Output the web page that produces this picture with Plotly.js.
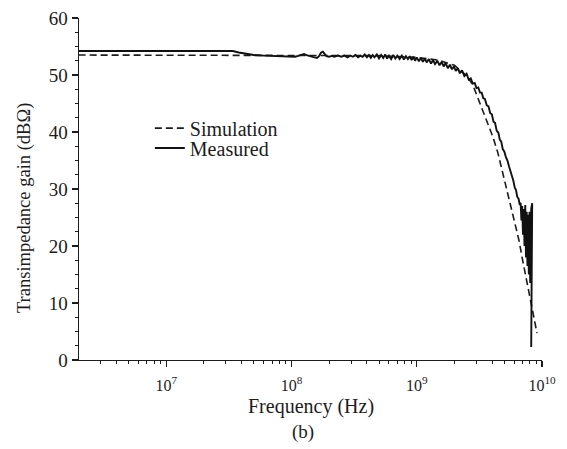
<!DOCTYPE html>
<html>
<head>
<meta charset="utf-8">
<script src="https://cdn.plot.ly/plotly-3.0.1.min.js"></script>
<style>html,body{margin:0;padding:0;background:#fff;}#chart{width:567px;height:449px;}</style>
</head>
<body>
<div id="chart"></div>
<script>
// Simulation (dashed)
const simFreq = [2e6, 1e7, 1e8, 5e8, 1e9, 1.5e9, 2e9, 2.5e9, 2.8e9, 3.13e9, 3.56e9, 4.06e9, 4.45e9, 5.45e9, 6.55e9, 6.92e9, 8.63e9, 9.12e9];
const simGain = [53.5, 53.5, 53.5, 53.4, 53.1, 52.6, 51.7, 49.9, 48.3, 45.6, 42.6, 39.1, 36.3, 28.1, 21.0, 18.1, 7.0, 4.7];

// Measured (solid)
const measFreq = [
  2e6, 1e7, 2e7, 3e7, 3.4e7, 3.8e7, 4.3e7, 5e7, 6e7, 7e7, 8e7, 9e7, 1e8, 1.07e8, 1.13e8, 1.2e8, 1.26e8, 1.32e8, 1.4e8, 1.5e8,
  1.6e8, 1.66e8, 1.72e8, 1.78e8, 1.84e8, 1.9e8, 2.0e8, 2.1e8,
  2.2e8, 2.35e8, 2.5e8, 2.65e8, 2.8e8, 2.95e8, 3.1e8, 3.25e8, 3.4e8, 3.55e8, 3.7e8, 3.85e8, 4.0e8, 4.15e8, 4.3e8, 4.45e8,
  4.6e8, 4.8e8, 5.0e8, 5.2e8, 5.4e8, 5.6e8, 5.8e8, 6.0e8, 6.25e8, 6.5e8, 6.75e8, 7.0e8, 7.3e8, 7.6e8, 7.9e8, 8.2e8, 8.5e8,
  8.8e8, 9.1e8, 9.4e8, 9.7e8, 1.0e9, 1.04e9, 1.08e9, 1.12e9, 1.16e9, 1.2e9, 1.25e9, 1.3e9, 1.35e9, 1.4e9, 1.46e9, 1.52e9,
  1.58e9, 1.64e9, 1.7e9, 1.77e9, 1.84e9, 1.91e9, 1.98e9, 2.05e9, 2.13e9, 2.21e9, 2.3e9, 2.4e9, 2.5e9, 2.6e9, 2.7e9, 2.8e9,
  2.9e9, 3.0e9, 3.1e9, 3.2e9, 3.3e9, 3.4e9, 3.5e9, 3.62e9, 3.74e9, 3.86e9, 3.98e9, 4.1e9, 4.22e9, 4.35e9, 4.48e9, 4.6e9,
  4.73e9, 4.86e9, 5.0e9, 5.15e9, 5.3e9, 5.45e9, 5.6e9, 5.75e9, 5.9e9, 6.05e9, 6.2e9, 6.35e9, 6.5e9, 6.65e9, 6.75e9, 6.85e9,
  6.95e9, 7.05e9, 7.15e9, 7.25e9, 7.35e9, 7.45e9, 7.55e9, 7.65e9, 7.75e9, 7.85e9, 7.95e9, 8.05e9, 8.2e9, 8.35e9, 8.3e9,
  8.22e9, 8.2e9
];
const measGain = [
  54.2, 54.2, 54.25, 54.25, 54.2, 53.95, 53.7, 53.5, 53.4, 53.35, 53.3, 53.3, 53.25, 53.2, 53.35, 53.55, 53.7, 53.5, 53.3, 53.15,
  53.0, 53.3, 53.9, 54.1, 53.7, 53.3, 53.2, 53.35,
  53.2, 53.4, 53.2, 53.4, 53.1, 53.4, 53.2, 53.5, 53.1, 53.4, 53.2, 53.6, 53.1, 53.5, 53.0, 53.5,
  53.1, 53.6, 52.9, 53.5, 53.0, 53.6, 52.9, 53.4, 52.8, 53.5, 52.9, 53.4, 52.8, 53.4, 52.7, 53.3, 52.8,
  53.3, 52.6, 53.2, 52.5, 53.1, 52.4, 53.0, 52.3, 52.9, 52.2, 52.8, 52.0, 52.6, 51.9, 52.5, 51.7,
  52.3, 51.5, 52.1, 51.2, 51.8, 51.0, 51.5, 50.7, 51.2, 50.3, 50.8, 49.8, 50.2, 49.2, 49.4, 48.5,
  48.6, 47.7, 47.8, 46.9, 46.9, 45.9, 45.8, 44.7, 44.5, 43.3, 43.1, 41.8, 41.6, 40.2, 39.9, 38.7,
  38.3, 37.0, 36.6, 35.6, 35.0, 34.0, 33.2, 32.2, 31.5, 30.3, 29.8, 28.6, 28.3, 27.2, 27.6, 24.5,
  27.0, 22.0, 26.5, 20.0, 27.2, 18.0, 26.0, 16.5, 25.5, 15.0, 26.0, 13.5, 26.5, 27.5, 14.0,
  8.0, 2.3
];

const xTickVals = [1e7, 1e8, 1e9, 1e10];
const xTickText = ['10<sup>7</sup>', '10<sup>8</sup>', '10<sup>9</sup>', '10<sup>10</sup>'];
const xMinorVals = [2e6,3e6,4e6,5e6,6e6,7e6,8e6,9e6,2e7,3e7,4e7,5e7,6e7,7e7,8e7,9e7,2e8,3e8,4e8,5e8,6e8,7e8,8e8,9e8,2e9,3e9,4e9,5e9,6e9,7e9,8e9,9e9];
const yTickVals = [0, 10, 20, 30, 40, 50, 60];

const FONT = 'Liberation Serif, Times New Roman, serif';
const INK = '#1c1c1c';

const traces = [
  {x: simFreq, y: simGain, mode: 'lines', name: 'Simulation', legend: 'legend', line: {color: INK, width: 1.6, dash: '7px,4px'}},
  {x: measFreq, y: measGain, mode: 'lines', name: 'Measured', legend: 'legend2', line: {color: '#111', width: 1.9}}
];

const legendBase = {xanchor: 'left', yanchor: 'middle', bgcolor: 'rgba(0,0,0,0)', borderwidth: 0, font: {family: FONT, size: 20, color: INK}};

const layout = {
  width: 567, height: 449,
  margin: {l: 79, r: 25, t: 18, b: 89},
  paper_bgcolor: '#fff', plot_bgcolor: '#fff',
  font: {family: FONT, color: INK},
  showlegend: true,
  legend: Object.assign({x: 0.153, y: 0.678}, legendBase),
  legend2: Object.assign({x: 0.153, y: 0.620}, legendBase),
  xaxis: {
    type: 'log', range: [6.304, 10.0], showgrid: false, zeroline: false,
    showline: true, linecolor: INK, linewidth: 1.4, mirror: false,
    ticks: 'outside', ticklen: 6, tickwidth: 1.2, tickcolor: INK,
    tickmode: 'array', tickvals: xTickVals, ticktext: xTickText,
    ticklabelstandoff: 4,
    tickfont: {family: FONT, size: 16, color: INK},
    minor: {tickmode: 'array', tickvals: xMinorVals, ticks: 'outside', ticklen: 3, tickwidth: 1, tickcolor: INK, showgrid: false}
  },
  yaxis: {
    range: [0, 60], showgrid: false, zeroline: false,
    showline: true, linecolor: INK, linewidth: 1.4,
    ticks: 'outside', ticklen: 6, tickwidth: 1.2, tickcolor: INK,
    tickmode: 'array', tickvals: yTickVals,
    tickfont: {family: FONT, size: 19, color: INK},
    minor: {dtick: 2.5, ticks: 'outside', ticklen: 3, tickwidth: 1, tickcolor: INK, showgrid: false}
  },
  annotations: [
    {text: 'Transimpedance gain (dBΩ)', xref: 'paper', yref: 'paper', x: -0.119, y: 0.444, xanchor: 'center', yanchor: 'middle', textangle: -90, showarrow: false, font: {family: FONT, size: 18.5, color: INK}},
    {text: 'Frequency (Hz)', xref: 'paper', yref: 'paper', x: 0.5, y: -0.137, xanchor: 'center', yanchor: 'middle', showarrow: false, font: {family: FONT, size: 20, color: INK}},
    {text: '(b)', xref: 'paper', yref: 'paper', x: 0.484, y: -0.211, xanchor: 'center', yanchor: 'middle', showarrow: false, font: {family: FONT, size: 19, color: INK}}
  ]
};

Plotly.newPlot('chart', traces, layout, {displayModeBar: false, staticPlot: true});
</script>
</body>
</html>
